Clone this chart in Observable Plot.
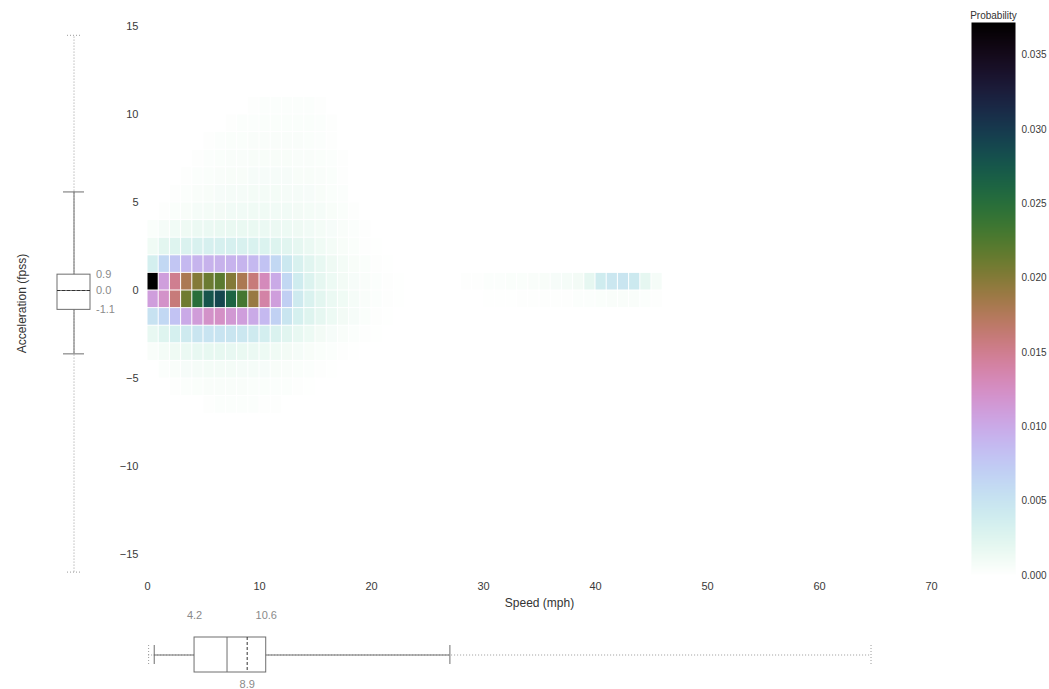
<!DOCTYPE html>
<html>
<head>
<meta charset="utf-8">
<script src="https://cdn.jsdelivr.net/npm/d3@7"></script>
<script src="https://cdn.jsdelivr.net/npm/@observablehq/plot@0.6"></script>
<style>
  body { margin: 0; background: #fff; }
  #chart { position: relative; width: 1049px; height: 689px; background: #fff; }
  #chart svg { position: absolute; overflow: visible; }
</style>
</head>
<body>
<div id="chart"></div>
<script>
// ---- Joint distribution of speed (mph) and acceleration (fpss), 1 x 1 bins ----
const speedBins = [0, 1, 2, 3, 4, 5, 6, 7, 8, 9, 10, 11, 12, 13, 14, 15, 16, 17, 18, 19, 20, 21, 22, 23, 24];
const accelBins = [10, 9, 8, 7, 6, 5, 4, 3, 2, 1, 0, -1, -2, -3, -4, -5, -6, -7];

// one row per acceleration bin (top to bottom), one value per speed bin
const probRows = [
  [0, 0, 0, 0, 0, 0, 0, 0, 0, .0002, .0003, .0003, .0003, .0003, .0003, .0002, 0, 0, 0, 0, 0, 0, 0, 0, 0],
  [0, 0, 0, 0, 0, 0, 0, .0002, .0003, .0003, .0004, .0004, .0004, .0004, .0004, .0003, .0002, 0, 0, 0, 0, 0, 0, 0, 0],
  [0, 0, 0, 0, 0, .0002, .0003, .0004, .0004, .0005, .0005, .0005, .0005, .0005, .0004, .0003, .0002, 0, 0, 0, 0, 0, 0, 0, 0],
  [0, 0, 0, 0, .0002, .0003, .0004, .0005, .0005, .0006, .0006, .0006, .0006, .0005, .0005, .0004, .0003, .0002, 0, 0, 0, 0, 0, 0, 0],
  [0, 0, 0, .0002, .0003, .0004, .0005, .0006, .0006, .0007, .0007, .0007, .0007, .0006, .0006, .0005, .0004, .0002, 0, 0, 0, 0, 0, 0, 0],
  [0, 0, .0002, .0003, .0005, .0006, .0007, .0008, .0008, .0009, .0009, .0009, .0008, .0008, .0007, .0006, .0004, .0003, 0, 0, 0, 0, 0, 0, 0],
  [0, .0002, .0004, .0006, .0008, .0009, .0010, .0011, .0011, .0012, .0012, .0011, .0011, .0010, .0009, .0008, .0006, .0004, .0002, 0, 0, 0, 0, 0, 0],
  [.0004, .0008, .0011, .0013, .0015, .0016, .0017, .0017, .0017, .0017, .0016, .0015, .0014, .0013, .0011, .0009, .0007, .0005, .0003, .0002, 0, 0, 0, 0, 0],
  [.0012, .0022, .0026, .0030, .0032, .0033, .0033, .0033, .0032, .0031, .0029, .0027, .0024, .0020, .0016, .0012, .0009, .0006, .0004, .0002, .0001, 0, 0, 0, 0],
  [.0035, .0062, .0078, .0088, .0092, .0094, .0094, .0093, .0092, .0088, .0080, .0062, .0045, .0032, .0024, .0018, .0013, .0009, .0006, .0004, .0002, .0001, 0, 0, 0],
  [.0372, .0110, .0150, .0180, .0200, .0212, .0220, .0200, .0180, .0160, .0130, .0100, .0062, .0040, .0028, .0020, .0014, .0010, .0007, .0005, .0003, .0002, .0001, 0, 0],
  [.0110, .0122, .0160, .0210, .0250, .0278, .0290, .0262, .0232, .0190, .0140, .0110, .0070, .0042, .0030, .0022, .0016, .0012, .0008, .0005, .0003, .0002, .0001, 0, 0],
  [.0052, .0062, .0080, .0100, .0112, .0122, .0124, .0116, .0110, .0100, .0088, .0068, .0048, .0034, .0026, .0020, .0014, .0010, .0007, .0004, .0002, .0001, 0, 0, 0],
  [.0018, .0026, .0034, .0042, .0048, .0050, .0050, .0048, .0046, .0042, .0036, .0030, .0024, .0018, .0014, .0010, .0007, .0005, .0003, .0002, .0001, 0, 0, 0, 0],
  [.0005, .0009, .0013, .0016, .0018, .0019, .0019, .0018, .0017, .0016, .0014, .0012, .0010, .0008, .0006, .0004, .0003, .0002, .0001, 0, 0, 0, 0, 0, 0],
  [0, .0003, .0005, .0007, .0008, .0009, .0009, .0009, .0008, .0008, .0007, .0006, .0005, .0004, .0003, .0002, .0001, 0, 0, 0, 0, 0, 0, 0, 0],
  [0, 0, .0002, .0003, .0004, .0005, .0005, .0005, .0005, .0004, .0004, .0003, .0003, .0002, .0001, 0, 0, 0, 0, 0, 0, 0, 0, 0, 0],
  [0, 0, 0, 0, 0, .0002, .0003, .0003, .0003, .0003, .0002, .0002, 0, 0, 0, 0, 0, 0, 0, 0, 0, 0, 0, 0, 0]
];

// highway cluster: cruising speeds 28-45 mph, acceleration bins 0 and -1
const tailSpeeds = [28, 29, 30, 31, 32, 33, 34, 35, 36, 37, 38, 39, 40, 41, 42, 43, 44, 45];
const tailAccelBins = [0, -1];
const tailRows = [
  [.0002, .0002, .0003, .0003, .0004, .0004, .0005, .0006, .0007, .0008, .0010, .0020, .0040, .0046, .0048, .0044, .0020, .0008],
  [0, 0, .0001, .0001, .0001, .0002, .0002, .0002, .0002, .0002, .0003, .0003, .0004, .0005, .0005, .0005, .0003, .0002]
];

const probMax = 0.0372;
const probTicks = [0, 0.005, 0.010, 0.015, 0.020, 0.025, 0.030, 0.035];
const speedTicks = [0, 10, 20, 30, 40, 50, 60, 70];
const accelTicks = [-15, -10, -5, 0, 5, 10, 15];

// marginal summaries (box = quartiles, solid = median, dashed = mean, dotted = full range)
const accelQuartiles = [-1.1, 0.0, 0.9];
const accelMean = 0.0;
const accelWhiskers = [-3.6, 5.6];
const accelRange = [-16.0, 14.5];

const speedQuartiles = [4.2, 7.1, 10.6];
const speedMean = 8.9;
const speedWhiskers = [0.6, 27.0];
const speedRange = [0.1, 64.6];

// ---- tables built from the arrays above ----
const cells = [];
accelBins.forEach((a, i) => probRows[i].forEach((p, j) => {
  if (p > 0) cells.push({speed: speedBins[j], accel: a, p});
}));
tailAccelBins.forEach((a, i) => tailRows[i].forEach((p, j) => {
  if (p > 0) cells.push({speed: tailSpeeds[j], accel: a, p});
}));

const accelBox = [{key: "accel", q1: accelQuartiles[0], med: accelQuartiles[1], q3: accelQuartiles[2],
  mean: accelMean, lo: accelWhiskers[0], hi: accelWhiskers[1], min: accelRange[0], max: accelRange[1]}];
const speedBox = [{key: "speed", q1: speedQuartiles[0], med: speedQuartiles[1], q3: speedQuartiles[2],
  mean: speedMean, lo: speedWhiskers[0], hi: speedWhiskers[1], min: speedRange[0], max: speedRange[1]}];

const fontFamily = '"Liberation Sans Narrow", "Liberation Sans", Arial, sans-serif';
const colorScale = {type: "linear", domain: [0, probMax], interpolate: t => d3.interpolateCubehelixDefault(1 - t)};
const boxGray = "#6e6e6e";
const labelGray = "#8a8a8a";

const chart = document.getElementById("chart");
function place(svg, left, top) {
  svg.style.left = left + "px";
  svg.style.top = top + "px";
  chart.appendChild(svg);
}

// ---- main heatmap ----
const W = 960, H = 620, ML = 147, MR = 29, MT = 26, MB = 66;
const heat = Plot.plot({
  width: W, height: H,
  marginLeft: ML, marginRight: MR, marginTop: MT, marginBottom: MB,
  style: {fontFamily, fontSize: "11px", color: "#3a3a3a", background: "transparent"},
  x: {domain: [0, 70], ticks: speedTicks, tickSize: 0, tickPadding: 28, label: null},
  y: {domain: [-15, 15], ticks: accelTicks, tickSize: 0, tickPadding: 9, label: null},
  color: colorScale,
  marks: [
    Plot.rect(cells, {
      x1: "speed", x2: d => d.speed + 1,
      y1: "accel", y2: d => d.accel + 1,
      fill: "p", inset: 0.5
    }),
    Plot.text(["Speed (mph)"], {frameAnchor: "bottom", dy: 52, fontSize: 12, fill: "#333"})
  ]
});
place(heat, 0, 0);

// ---- acceleration marginal box plot (left) ----
const accelPlot = Plot.plot({
  width: 140, height: H,
  marginLeft: 57, marginRight: 50, marginTop: MT, marginBottom: MB,
  style: {fontFamily, fontSize: "11px", background: "transparent"},
  x: {type: "band", domain: ["accel"], padding: 0, axis: null},
  y: {domain: [-15, 15], axis: null},
  marks: [
    Plot.ruleX(accelBox, {x: "key", y1: "min", y2: "max", stroke: "#9a9a9a", strokeDasharray: "1,2"}),
    Plot.tickY(accelBox, {x: "key", y: "min", stroke: "#9a9a9a", strokeDasharray: "1,2", insetLeft: 10, insetRight: 10}),
    Plot.tickY(accelBox, {x: "key", y: "max", stroke: "#9a9a9a", strokeDasharray: "1,2", insetLeft: 10, insetRight: 10}),
    Plot.ruleX(accelBox, {x: "key", y1: "lo", y2: "hi", stroke: boxGray}),
    Plot.tickY(accelBox, {x: "key", y: "lo", stroke: boxGray, insetLeft: 6, insetRight: 6}),
    Plot.tickY(accelBox, {x: "key", y: "hi", stroke: boxGray, insetLeft: 6, insetRight: 6}),
    Plot.barY(accelBox, {x: "key", y1: "q1", y2: "q3", fill: "white", stroke: boxGray}),
    Plot.tickY(accelBox, {x: "key", y: "med", stroke: boxGray}),
    Plot.tickY(accelBox, {x: "key", y: "mean", stroke: "#333", strokeDasharray: "3,2"}),
    Plot.text(accelQuartiles, {
      x: () => "accel", y: d => d, text: d => d.toFixed(1),
      dx: 22, textAnchor: "start", fill: labelGray
    }),
    Plot.text(["Acceleration (fpss)"], {
      frameAnchor: "left", textAnchor: "middle", dx: -35, dy: 13, rotate: -90, fontSize: 12, fill: "#333"
    })
  ]
});
place(accelPlot, 0, 0);

// ---- speed marginal box plot (bottom) ----
const speedPlot = Plot.plot({
  width: W, height: 89,
  marginLeft: ML, marginRight: MR, marginTop: 37, marginBottom: 17,
  style: {fontFamily, fontSize: "11px", background: "transparent"},
  x: {domain: [0, 70], axis: null},
  y: {type: "band", domain: ["speed"], padding: 0, axis: null},
  marks: [
    Plot.ruleY(speedBox, {y: "key", x1: "min", x2: "max", stroke: "#9a9a9a", strokeDasharray: "1,2"}),
    Plot.tickX(speedBox, {y: "key", x: "min", stroke: "#9a9a9a", strokeDasharray: "1,2", insetTop: 8, insetBottom: 8}),
    Plot.tickX(speedBox, {y: "key", x: "max", stroke: "#9a9a9a", strokeDasharray: "1,2", insetTop: 8, insetBottom: 8}),
    Plot.ruleY(speedBox, {y: "key", x1: "lo", x2: "hi", stroke: boxGray}),
    Plot.tickX(speedBox, {y: "key", x: "lo", stroke: boxGray, insetTop: 8, insetBottom: 8}),
    Plot.tickX(speedBox, {y: "key", x: "hi", stroke: boxGray, insetTop: 8, insetBottom: 8}),
    Plot.barX(speedBox, {y: "key", x1: "q1", x2: "q3", fill: "white", stroke: boxGray}),
    Plot.tickX(speedBox, {y: "key", x: "med", stroke: boxGray}),
    Plot.tickX(speedBox, {y: "key", x: "mean", stroke: "#333", strokeDasharray: "3,2"}),
    Plot.text([speedQuartiles[0], speedQuartiles[2]], {
      x: d => d, y: () => "speed", text: d => d.toFixed(1), dy: -40, fill: labelGray
    }),
    Plot.text([speedMean], {
      x: d => d, y: () => "speed", text: d => d.toFixed(1), dy: 29, fill: labelGray
    })
  ]
});
place(speedPlot, 0, 600);

// ---- colour bar ----
const bar = Plot.plot({
  width: 89, height: 600,
  marginLeft: 11, marginRight: 34, marginTop: 22, marginBottom: 25,
  style: {fontFamily, fontSize: "10px", color: "#3a3a3a", background: "transparent"},
  x: {domain: [0, 1], axis: null},
  y: {domain: [0, probMax], ticks: probTicks, tickFormat: d3.format(".3f"), tickSize: 0, tickPadding: 6, axis: "right", label: null},
  color: colorScale,
  marks: [
    Plot.raster({x1: 0, x2: 1, y1: 0, y2: probMax, fill: (x, y) => y}),
    Plot.text(["Probability"], {frameAnchor: "top", dy: -11, fontSize: 10, fill: "#333"})
  ]
});
place(bar, 960, 0);
</script>
</body>
</html>
